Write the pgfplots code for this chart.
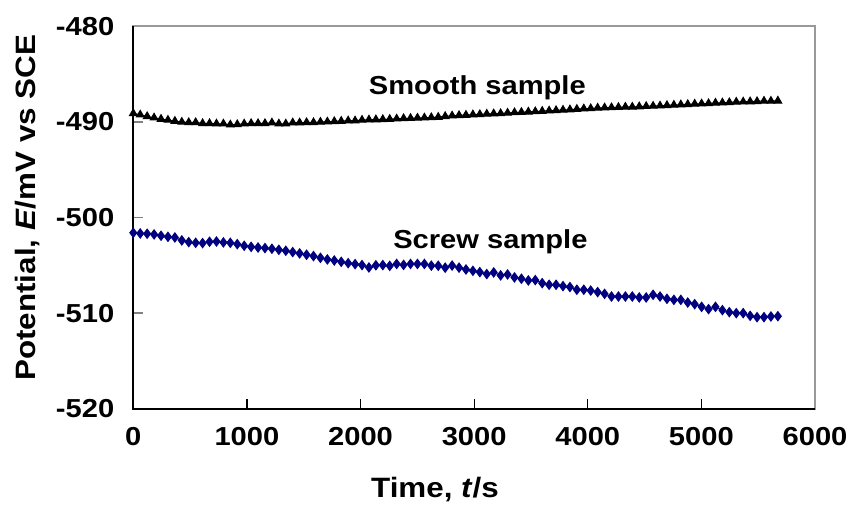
\documentclass[border=0pt]{standalone}
\usepackage{pgfplots}
\pgfplotsset{compat=1.18}
\usepackage{pgfplotstable}
\usepackage{fontspec}
\setmainfont{Liberation Sans}[FakeStretch=1.12]
\definecolor{navyblue}{RGB}{0,0,128}

\pgfplotstableread{
t smooth screw
0 -489.10 -501.59
61 -489.24 -501.66
122 -489.41 -501.69
183 -489.55 -501.76
244 -489.69 -501.90
305 -489.79 -502.01
366 -489.90 -502.08
427 -490.00 -502.39
488 -490.04 -502.57
549 -490.04 -502.64
610 -490.14 -502.67
671 -490.14 -502.53
732 -490.18 -502.50
793 -490.18 -502.60
854 -490.28 -502.64
915 -490.25 -502.78
976 -490.18 -502.95
1037 -490.14 -503.06
1098 -490.14 -503.13
1159 -490.14 -503.19
1220 -490.07 -503.26
1281 -490.18 -503.37
1342 -490.18 -503.47
1403 -490.07 -503.61
1464 -490.07 -503.75
1525 -490.04 -503.89
1586 -490.04 -504.03
1647 -490.00 -504.21
1708 -489.97 -504.38
1769 -489.93 -504.49
1830 -489.90 -504.63
1891 -489.86 -504.77
1952 -489.86 -504.87
2013 -489.79 -504.97
2074 -489.76 -505.22
2135 -489.74 -504.99
2196 -489.72 -504.97
2257 -489.70 -505.05
2318 -489.66 -504.85
2379 -489.62 -504.95
2440 -489.60 -504.85
2501 -489.57 -504.85
2562 -489.55 -504.85
2623 -489.52 -505.03
2684 -489.48 -505.04
2745 -489.40 -505.24
2806 -489.34 -505.02
2867 -489.30 -505.24
2928 -489.27 -505.43
2989 -489.22 -505.57
3050 -489.20 -505.71
3111 -489.15 -505.91
3172 -489.12 -505.74
3233 -489.10 -506.05
3294 -489.05 -505.95
3355 -489.00 -506.26
3416 -488.97 -506.40
3477 -488.93 -506.58
3538 -488.90 -506.54
3599 -488.86 -506.86
3660 -488.82 -507.03
3721 -488.78 -507.03
3782 -488.74 -507.17
3843 -488.70 -507.27
3904 -488.65 -507.55
3965 -488.60 -507.55
4026 -488.58 -507.64
4087 -488.52 -507.80
4148 -488.50 -507.98
4209 -488.48 -508.26
4270 -488.45 -508.26
4331 -488.42 -508.26
4392 -488.42 -508.26
4453 -488.38 -508.36
4514 -488.35 -508.36
4575 -488.32 -508.08
4636 -488.30 -508.26
4697 -488.25 -508.50
4758 -488.22 -508.61
4819 -488.18 -508.61
4880 -488.15 -508.89
4941 -488.10 -509.06
5002 -488.08 -509.34
5063 -488.05 -509.58
5124 -488.00 -509.34
5185 -487.98 -509.69
5246 -487.95 -509.90
5307 -487.90 -510.00
5368 -487.88 -510.00
5429 -487.86 -510.28
5490 -487.84 -510.42
5551 -487.80 -510.42
5612 -487.80 -510.35
5673 -487.78 -510.32
}\datatable

\begin{document}
\begin{tikzpicture}
\begin{axis}[
  width=340.85pt, height=191.1pt, scale only axis,
  xmin=0, xmax=6000, ymin=-520, ymax=-480,
  xtick={0,1000,...,6000}, ytick={-520,-510,...,-480},
  tick align=inside, xtick pos=bottom, ytick pos=left,
  major tick length=5pt,
  xtick style={black, line width=0.6pt},
  ytick style={gray, line width=0.8pt},
  axis line style={gray!80, line width=1pt},
  font=\fontsize{13}{15}\selectfont\bfseries,
  ticklabel style={font=\fontsize{13}{15}\selectfont\bfseries},
  yticklabel style={xshift=-6pt},
  xticklabel style={yshift=-6pt},
  /pgf/number format/assume math mode=true,
  /pgf/number format/1000 sep={},
  xlabel={Time, \textit{t}/s},
  ylabel={Potential, \textit{E}/mV vs SCE},
  xlabel style={at={(axis description cs:0.4426,-0.2127)}, anchor=center, font=\fontsize{14}{16}\selectfont\bfseries},
  ylabel style={at={(axis description cs:-0.1545,0.526)}, anchor=center, font=\fontsize{14}{16}\selectfont\bfseries},
  clip=false,
]
\draw[black, line width=1pt] (rel axis cs:0,1) -- (rel axis cs:0,0) -- (rel axis cs:1,0);
\addplot[black, line width=0.5pt, mark=triangle*, mark size=2.2pt, mark options={solid, fill=black}] table[x=t, y=smooth] {\datatable};
\addplot[navyblue, line width=0.5pt, mark=diamond*, mark size=2.3pt, mark options={solid, fill=navyblue}] table[x=t, y=screw] {\datatable};
\node at (axis cs:3028,-486.44) {Smooth sample};
\node at (axis cs:3143,-502.57) {Screw sample};
\end{axis}
\pgfresetboundingbox
\path ([shift={(-66.65pt,-52.65pt)}]current axis.south west) rectangle ([shift={(18pt,13.25pt)}]current axis.north east);
\end{tikzpicture}
\end{document}
